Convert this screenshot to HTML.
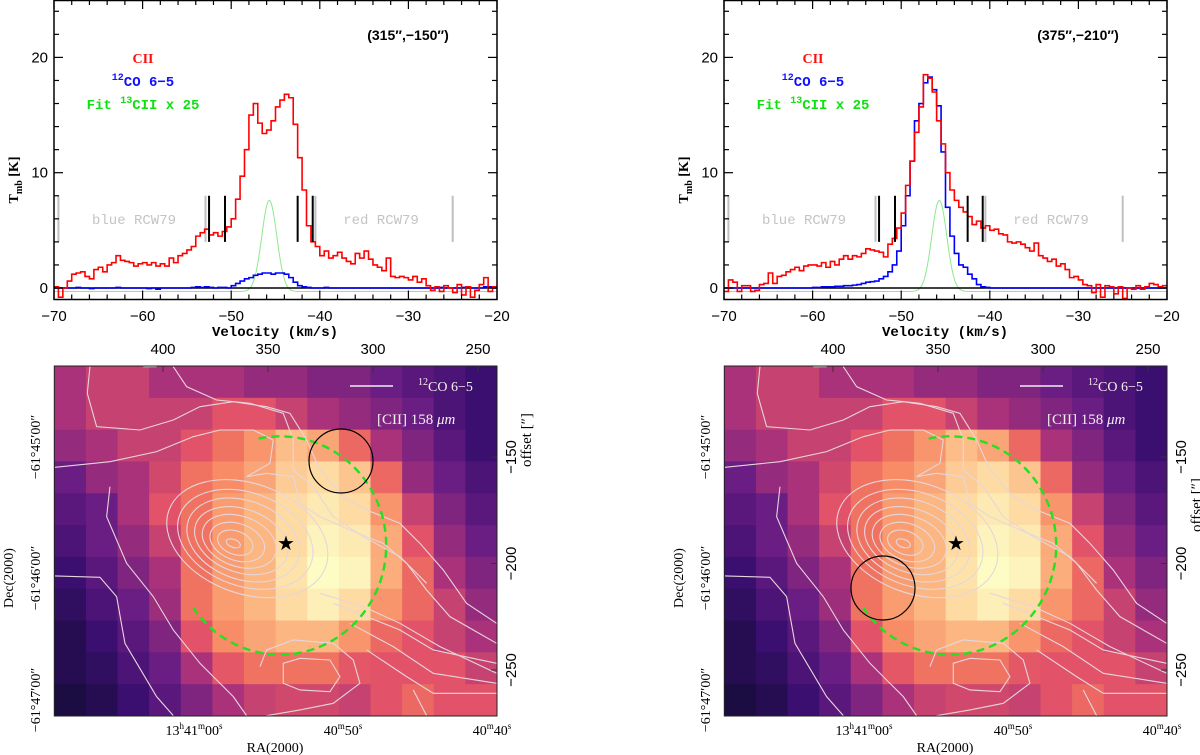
<!DOCTYPE html>
<html><head><meta charset="utf-8"><title>CII spectra and maps</title>
<style>
html,body{margin:0;padding:0;background:#fff;}
svg{display:block;font-family:"Liberation Sans",sans-serif;}
</style></head>
<body>
<svg id="fig" width="1200" height="755" viewBox="0 0 1200 755" xmlns="http://www.w3.org/2000/svg"></svg>
<script>
// ---------- data ----------
const velStart = -70, velStep = 0.5;
const ciiLeft = [0.1,-0.8,0,0.6,1.2,1.3,1.4,1.0,0.8,1.6,1.8,1.4,2.0,2.2,2.8,2.4,2.3,2.2,1.9,2.1,2.2,2.0,2.2,1.9,2.1,1.9,2.6,2.2,2.8,3.0,3.3,3.6,4.5,4.8,5.1,4.6,4.8,4.5,4.9,5.3,6.0,7.7,9.7,12.0,15.0,16.0,14.3,13.4,13.7,14.5,15.7,16.3,16.8,16.5,14.2,11.3,8.5,5.4,4.0,3.6,2.8,3.2,2.6,2.8,3.1,2.6,2.3,2.1,3.0,2.6,3.2,2.5,2.0,1.8,1.5,2.6,1.0,0.9,1.0,0.9,0.7,1.0,0.5,0.8,0.2,-0.2,0.1,-0.3,0.2,0.0,-0.4,0.3,-0.6,0.1,-0.8,-0.2,0.3,0.9,-0.3,0.1];
const coLeft = [0,0,0,0,0,0.05,0,0,-0.05,0,0,0,0,0,0.05,0,0,0,0,0,0,-0.05,0,-0.1,0,0,0,0,0,0,0,0.05,0.1,0.05,0.1,0.05,0,0.05,0.05,0,0.2,0.4,0.6,0.8,0.9,1.1,1.2,1.3,1.3,1.2,1.3,1.3,1.2,0.9,0.5,0.2,0.1,0.05,0,0,0,0.05,0,0,0,0,0,0,0,0,0,0,0,0,0,0,0,0,0,0,0,0,0,0,0,0,0,0.05,0,0,0,0,0.05,0.1,0,0,0,0.1,0.1,0];
const ciiRight = [-0.3,0.7,0.5,-0.3,0.2,0.2,-0.3,-0.2,0.3,0.4,1.3,0.4,1.0,1.1,1.4,1.6,1.8,1.5,1.9,2.0,2.0,1.9,2.2,1.8,2.3,2.0,2.5,2.8,2.5,2.8,2.7,3.0,3.4,3.3,3.2,3.1,2.7,3.8,4.3,5.2,6.5,8.9,11.0,13.5,15.7,18.5,18.2,17.0,14.5,12.5,10.0,8.5,7.6,7.0,6.6,6.2,5.5,5.8,5.2,5.4,5.0,5.1,4.7,4.6,4.0,3.9,4.0,3.8,3.5,3.2,3.9,2.8,2.6,2.3,2.5,1.9,2.1,1.6,0.9,1.0,0.7,0.3,0.2,-0.4,0.3,-0.8,0.2,0.1,-0.5,0.1,-0.9,0.0,-0.1,0.2,-0.1,0.1,0.4,0.3,0.1,0.2];
const coRight = [0,0,0,0,0,0,0,0,0,0,0,0,0,0,0,0,0,0,0,0,0.05,0.05,0.1,0.1,0.1,0.15,0.15,0.2,0.2,0.25,0.3,0.4,0.5,0.55,0.6,0.8,1.0,1.4,2.0,3.2,5.4,8.0,11.0,14.5,16.0,17.8,18.3,17.2,15.8,11.8,7.0,4.5,3.0,2.0,1.8,1.2,0.8,0.3,0.1,0.05,0,0,0,0,0,0,0,0,0,0,0,0,0,0,0,0,0,0,0,0,0,0,0,0,0,0,0,0,0,0,0,0,0,0,0,0,0,0,0,0];
const fitAmp = [7.9], fitCenter = [-45.7], fitSigma = [0.85], fitBase = [-0.3];
const blackMarks = [-52.5, -50.7, -42.5, -40.8];
const grayMarks = [-69.5, -52.9, -40.5, -25];
const xTicks = [-70,-60,-50,-40,-30,-20];
const yTicks = [0,10,20];
const panelLabels = ["(315\u2033,\u2212150\u2033)", "(375\u2033,\u2212210\u2033)"];
// CII map intensity grid (14 cols x 11 rows), 0..1
const heat = [
[0.45,0.50,0.50,0.45,0.45,0.45,0.40,0.40,0.35,0.35,0.30,0.25,0.20,0.15],
[0.45,0.50,0.50,0.50,0.50,0.55,0.55,0.50,0.45,0.40,0.35,0.30,0.20,0.15],
[0.40,0.45,0.50,0.50,0.55,0.62,0.70,0.80,0.74,0.60,0.45,0.35,0.25,0.15],
[0.30,0.40,0.45,0.52,0.62,0.68,0.74,0.84,0.88,0.82,0.60,0.40,0.30,0.20],
[0.25,0.30,0.45,0.55,0.62,0.72,0.78,0.88,0.93,0.88,0.70,0.50,0.35,0.25],
[0.20,0.30,0.40,0.50,0.62,0.72,0.78,0.88,0.97,0.93,0.75,0.55,0.40,0.30],
[0.15,0.25,0.35,0.45,0.62,0.72,0.78,0.90,1.00,0.97,0.76,0.60,0.45,0.35],
[0.10,0.20,0.30,0.42,0.62,0.72,0.78,0.88,0.95,0.88,0.70,0.60,0.50,0.40],
[0.05,0.15,0.25,0.35,0.55,0.68,0.74,0.78,0.78,0.70,0.60,0.55,0.50,0.45],
[0.05,0.10,0.20,0.30,0.45,0.56,0.62,0.62,0.62,0.56,0.55,0.55,0.55,0.50],
[0.00,0.05,0.15,0.25,0.35,0.45,0.50,0.52,0.52,0.50,0.55,0.60,0.55,0.55]];
const offTopTicks = [400,350,300,250];
const offRightTicks = [150,200,250];
const circleCenters = [[341,461],[213,588]];

// ---------- helpers ----------
const NS = "http://www.w3.org/2000/svg";
const svg = document.getElementById("fig");
function mk(tag, attrs, parent){
  const e = document.createElementNS(NS, tag);
  for (const k in attrs) e.setAttribute(k, attrs[k]);
  (parent||svg).appendChild(e);
  return e;
}
const SX0 = 54, SX1 = 497, SY0 = 0, SY1 = 299.5;
function sx(v, off){ return off + SX0 + (v - (-70)) / 50 * (SX1 - SX0); }
function sy(t){ return 288 - t * 11.53; }

function histPath(vals, off){
  let d = "";
  for (let i = 0; i < vals.length; i++){
    const x0 = sx(velStart + i*velStep, off), x1 = sx(velStart + (i+1)*velStep, off);
    const y = sy(vals[i]);
    d += (i === 0 ? "M" + x0 + "," + y : "V" + y) + "H" + x1;
  }
  return d;
}

function spectrumPanel(off, cii, co, label, idx){
  const g = mk("g", {});
  
  
  const cp = mk("clipPath", {id: "clipS" + idx}, g);
  mk("rect", {x: off+SX0, y: SY0, width: SX1-SX0, height: SY1-SY0}, cp);
  const plot = mk("g", {"clip-path": "url(#clipS" + idx + ")"}, g);
  grayMarks.forEach(v => {
    const l = mk("line", {x1: sx(v,off), x2: sx(v,off), y1: sy(8), y2: sy(4), stroke: "#c0c0c0", "stroke-width": 2}, plot);
    
    
  });
  let d = "";
  for (let v = -70; v <= -20.001; v += 0.1){
    const t = fitBase[0] + fitAmp[0] * Math.exp(-0.5 * Math.pow((v - fitCenter[0]) / fitSigma[0], 2));
    d += (d ? "L" : "M") + sx(v,off).toFixed(2) + "," + sy(t).toFixed(2);
  }
  const fit = mk("path", {d: d, fill: "none", stroke: "#8ee88e", "stroke-width": 1}, plot);
  
  
  const base = mk("line", {x1: off+SX0, x2: off+SX1, y1: sy(0), y2: sy(0), stroke: "#000", "stroke-width": 1.6}, plot);
  
  
  const coP = mk("path", {d: histPath(co, off), fill: "none", stroke: "#0000ff", "stroke-width": 1.6}, plot);
  
  
  const ciiP = mk("path", {d: histPath(cii, off), fill: "none", stroke: "#ff0000", "stroke-width": 1.6}, plot);
  
  
  blackMarks.forEach(v => {
    const l = mk("line", {x1: sx(v,off), x2: sx(v,off), y1: sy(8), y2: sy(4), stroke: "#000", "stroke-width": 2}, plot);
    
    
  });
  const fr = mk("rect", {x: off+SX0, y: SY0+0.5, width: SX1-SX0, height: SY1-SY0-0.5, fill: "none", stroke: "#000", "stroke-width": 1.5}, g);
  
  
  for (let v = -70; v <= -20; v += 2){
    const maj = (v % 10 === 0);
    const L = maj ? 9 : 5;
    mk("line", {x1: sx(v,off), x2: sx(v,off), y1: SY1, y2: SY1-L, stroke: "#000", "stroke-width": 1.2}, g);
    mk("line", {x1: sx(v,off), x2: sx(v,off), y1: SY0, y2: SY0+L, stroke: "#000", "stroke-width": 1.2}, g);
  }
  for (let t = 0; t <= 24; t += 2){
    const maj = (t % 10 === 0);
    const L = maj ? 9 : 5;
    mk("line", {x1: off+SX0, x2: off+SX0+L, y1: sy(t), y2: sy(t), stroke: "#000", "stroke-width": 1.2}, g);
    mk("line", {x1: off+SX1, x2: off+SX1-L, y1: sy(t), y2: sy(t), stroke: "#000", "stroke-width": 1.2}, g);
  }
  xTicks.forEach(v => {
    const t = mk("text", {x: sx(v,off), y: 321, "text-anchor": "middle", "font-size": 15}, g);
    t.textContent = String(v).replace("-", "\u2212");
    
    
  });
  yTicks.forEach(v => {
    const t = mk("text", {x: off+48, y: sy(v)+5, "text-anchor": "end", "font-size": 15}, g);
    t.textContent = v;
    
    
  });
  const xt = mk("text", {x: off+275, y: 336, "text-anchor": "middle", "font-size": 14, "font-weight": "bold", "font-family": "Liberation Mono, monospace"}, g);
  xt.textContent = "Velocity (km/s)";
  
  
  const yt = mk("text", {transform: "translate(" + (off+18) + ",180) rotate(-90)", "text-anchor": "middle", "font-size": 14, "font-weight": "bold", "font-family": "Liberation Serif, serif"}, g);
  yt.innerHTML = 'T<tspan font-size="10" dy="4">mb</tspan><tspan dy="-4"> [K]</tspan>';
  
  
  const pl = mk("text", {x: off+408, y: 40, "text-anchor": "middle", "font-size": 14, "font-weight": "bold"}, g);
  pl.textContent = label;
  
  
  const l1 = mk("text", {x: off+143, y: 63, "text-anchor": "middle", "font-size": 14, "font-weight": "bold", fill: "#ff1010", "font-family": "Liberation Serif, serif"}, g);
  l1.textContent = "CII";
  
  
  const l2 = mk("text", {x: off+143, y: 86, "text-anchor": "middle", "font-size": 14, "font-weight": "bold", fill: "#1010ff", "font-family": "Liberation Mono, monospace"}, g);
  l2.innerHTML = '<tspan font-size="10" dy="-6">12</tspan><tspan dy="6">CO 6\u22125</tspan>';
  
  
  const l3 = mk("text", {x: off+143, y: 109, "text-anchor": "middle", "font-size": 14, "font-weight": "bold", fill: "#10e010", "font-family": "Liberation Mono, monospace"}, g);
  l3.innerHTML = 'Fit <tspan font-size="10" dy="-6">13</tspan><tspan dy="6">CII x 25</tspan>';
  
  
  const b = mk("text", {x: off+134, y: 224, "text-anchor": "middle", "font-size": 14, fill: "#c4c4c4", "font-family": "Liberation Mono, monospace"}, g);
  b.textContent = "blue RCW79";
  
  
  const r = mk("text", {x: off+381, y: 224, "text-anchor": "middle", "font-size": 14, fill: "#c4c4c4", "font-family": "Liberation Mono, monospace"}, g);
  r.textContent = "red RCW79";
  
  
}

// colormap (magma-like)
const stops = [[0,[27,12,65]],[0.15,[59,15,112]],[0.3,[106,29,130]],[0.45,[170,50,122]],[0.55,[226,82,104]],[0.65,[246,128,94]],[0.78,[252,182,130]],[0.9,[253,226,170]],[1,[252,252,196]]];
function cmap(t){
  for (let i = 1; i < stops.length; i++){
    if (t <= stops[i][0]){
      const a = stops[i-1], b = stops[i], f = (t - a[0]) / (b[0] - a[0]);
      const c = a[1].map((v,k) => Math.round(v + f*(b[1][k]-v)));
      return "rgb(" + c.join(",") + ")";
    }
  }
  return "rgb(252,252,196)";
}

const MX0 = 54.3, MX1 = 497, MY0 = 366, MY1 = 716;
const contourPaths = [
"M270,110 L262,190 L290,290 L420,300 L520,270 L600,230 L700,215 L800,230 L870,250 L920,330 L960,420 L1030,500 L1100,540 L1200,580 L1260,640 L1330,720 L1400,820 L1490,880",
"M165,412 L330,395 L470,365 L580,320 L660,300 L760,300 L820,330 L810,400 L740,440 L800,430 L880,440 L900,520 L960,560 L1050,600 L1150,640 L1220,700 L1280,780 L1350,860 L1490,940",
"M165,738 L300,742 L350,800 L375,940 L470,1100 L520,1157",
"M330,470 L320,560 L380,700 L460,800 L520,900 L600,1000 L700,1100 L740,1157",
"M430,110 L470,110 M520,110 L560,170 L650,210 L750,220 L850,250 L880,330 L880,420 L940,470 L1000,560 L1090,620 L1200,680 L1280,760",
"M1000,820 L1100,860 L1200,900 L1300,960 L1490,1000",
"M960,790 L1090,830 L1200,880 L1320,950 L1490,1030",
"M1050,880 L1180,950 L1300,1030 L1490,1060",
"M1100,960 L1220,1040 L1300,1090 L1490,1090",
"M1240,1080 L1280,1157",
"M780,1010 L800,960 L880,930 L1000,940 L1060,990 L1080,1060 L1000,1120 L900,1140 L800,1157",
"M850,1000 L900,985 L990,990 L1020,1040 L990,1085 L900,1080 L850,1060 Z"
];
const ringRx = [22,55,85,115,145,175,210,250];
const ringRy = [12,35,55,75,95,118,140,165];

function mapPanel(off, idx){
  const g = mk("g", {});
  
  
  const cp = mk("clipPath", {id: "clipM" + idx}, g);
  mk("rect", {x: off+MX0, y: MY0, width: MX1-MX0, height: MY1-MY0}, cp);
  const plot = mk("g", {"clip-path": "url(#clipM" + idx + ")"}, g);
  const nr = heat.length, nc = heat[0].length;
  const cw = (MX1-MX0)/nc, ch = (MY1-MY0)/nr;
  for (let r = 0; r < nr; r++){
    for (let c = 0; c < nc; c++){
      const cell = mk("rect", {x: (off+MX0+c*cw).toFixed(2), y: (MY0+r*ch).toFixed(2), width: (cw+0.6).toFixed(2), height: (ch+0.6).toFixed(2), fill: cmap(heat[r][c])}, plot);
      
      
    }
  }
  const cg = mk("g", {transform: "translate(" + (off+MX0) + "," + MY0 + ") scale(0.3333) translate(-163,-108)", fill: "none", stroke: "#e6d6dc", "stroke-width": 3.3}, plot);
  
  
  contourPaths.forEach(d => {
    const p = mk("path", {d: d}, cg);
    
    
  });
  for (let i = 0; i < ringRx.length; i++){
    const e = mk("ellipse", {cx: 700 + i*6, cy: 640 - i*2, rx: ringRx[i], ry: ringRy[i], transform: "rotate(20 " + (700+i*6) + " " + (640-i*2) + ")"}, cg);
    
    
  }
  const cx = off + 277, cy = 543, R = 106;
  const a0 = -100 * Math.PI/180, a1 = 142 * Math.PI/180;
  const p0 = [cx + R*Math.cos(a0), cy + R*Math.sin(a0)], p1 = [cx + R*Math.cos(a1), cy + R*Math.sin(a1)];
  const arc = mk("path", {d: "M" + p0[0] + "," + p0[1] + " A" + R + "," + (R*1.03) + " 0 1 1 " + p1[0] + "," + p1[1], fill: "none", stroke: "#22e022", "stroke-width": 2.4, "stroke-dasharray": "8,5"}, plot);
  
  
  const cc = circleCenters[idx];
  const bc = mk("circle", {cx: off + cc[0], cy: cc[1], r: 32, fill: "none", stroke: "#000", "stroke-width": 1.2}, plot);
  
  
  const st = mk("text", {x: off + 286, y: 550, "text-anchor": "middle", "font-size": 20, fill: "#000", "font-family": "DejaVu Sans, sans-serif"}, plot);
  st.textContent = "\u2605";
  
  
  mk("line", {x1: off+350, x2: off+393, y1: 386, y2: 386, stroke: "#eee", "stroke-width": 1.5}, g);
  const t1 = mk("text", {x: off+418, y: 391, "font-size": 14, fill: "#f4f0f0", "font-family": "Liberation Serif, serif"}, g);
  t1.innerHTML = '<tspan font-size="10" dy="-6">12</tspan><tspan dy="6">CO 6\u22125</tspan>';
  
  
  const t2 = mk("text", {x: off+377, y: 424, "font-size": 15, fill: "#f4f0f0", "font-family": "Liberation Serif, serif"}, g);
  t2.innerHTML = '[CII] 158 <tspan font-style="italic">\u03bcm</tspan>';
  
  
  const fr = mk("rect", {x: off+MX0, y: MY0, width: MX1-MX0, height: MY1-MY0, fill: "none", stroke: "#222", "stroke-width": 1}, g);
  
  
  offTopTicks.forEach(v => {
    const x = off + 163 + (400 - v) * 2.1;
    mk("line", {x1: x, x2: x, y1: MY0, y2: MY0+6, stroke: "#333"}, g);
    const t = mk("text", {x: x, y: 354, "text-anchor": "middle", "font-size": 15}, g);
    t.textContent = v;
    
    
  });
  offRightTicks.forEach(v => {
    const y = 457 + (v - 150) * 2.13;
    mk("line", {x1: off+MX1, x2: off+MX1-6, y1: y, y2: y, stroke: "#333"}, g);
    const t = mk("text", {transform: "translate(" + (off+516) + "," + y + ") rotate(-90)", "text-anchor": "middle", "font-size": 15}, g);
    t.textContent = "\u2212" + v;
    
    
  });
  const ol = mk("text", {transform: "translate(" + (off+531) + "," + (idx === 0 ? 440 : 505) + ") rotate(-90)", "text-anchor": "middle", "font-size": 15, "font-family": "Liberation Serif, serif"}, g);
  ol.textContent = "offset [\u2033]";
  
  
  const decs = [["\u221261\u00b045\u203200\u2033", 447], ["\u221261\u00b046\u203200\u2033", 578], ["\u221261\u00b047\u203200\u2033", 700]];
  decs.forEach(dd => {
    const t = mk("text", {transform: "translate(" + (off+40) + "," + dd[1] + ") rotate(-90)", "text-anchor": "middle", "font-size": 14, "font-family": "Liberation Serif, serif"}, g);
    t.textContent = dd[0];
    
    
  });
  const dt = mk("text", {transform: "translate(" + (off+13) + ",578) rotate(-90)", "text-anchor": "middle", "font-size": 14, "font-family": "Liberation Serif, serif"}, g);
  dt.textContent = "Dec(2000)";
  
  
  const ras = [['13<tspan font-size="9" dy="-6">h</tspan><tspan dy="6">41</tspan><tspan font-size="9" dy="-6">m</tspan><tspan dy="6">00</tspan><tspan font-size="9" dy="-6">s</tspan>', 194], ['40<tspan font-size="9" dy="-6">m</tspan><tspan dy="6">50</tspan><tspan font-size="9" dy="-6">s</tspan>', 343], ['40<tspan font-size="9" dy="-6">m</tspan><tspan dy="6">40</tspan><tspan font-size="9" dy="-6">s</tspan>', 492]];
  ras.forEach(rr => {
    const t = mk("text", {x: off+rr[1], y: 735, "text-anchor": "middle", "font-size": 14, "font-family": "Liberation Serif, serif"}, g);
    t.innerHTML = rr[0];
    
    
  });
  const rt = mk("text", {x: off+275, y: 752, "text-anchor": "middle", "font-size": 14, "font-family": "Liberation Serif, serif"}, g);
  rt.textContent = "RA(2000)";
  
  
}

spectrumPanel(0, ciiLeft, coLeft, panelLabels[0], 0);
spectrumPanel(670, ciiRight, coRight, panelLabels[1], 1);
mapPanel(0, 0);
mapPanel(670, 1);
</script>
</body></html>
